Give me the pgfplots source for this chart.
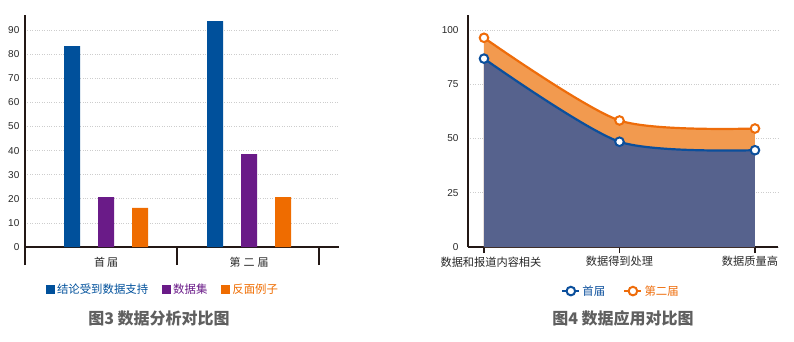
\documentclass[border=0pt]{standalone}
\usepackage{pgfplots}
\pgfplotsset{compat=1.18}
\usepackage{fontspec}
\setmainfont{Liberation Sans}
\newfontfamily\cjk{Noto Sans CJK SC}
\definecolor{cblue}{RGB}{0,80,155}
\definecolor{cpurple}{RGB}{106,27,136}
\definecolor{corange}{RGB}{239,108,0}
\definecolor{lblue}{RGB}{11,79,156}
\definecolor{ablue}{RGB}{86,98,141}
\definecolor{lorange}{RGB}{238,108,10}
\definecolor{aorange}{RGB}{242,154,79}
\definecolor{axdark}{RGB}{35,24,21}
\definecolor{gridc}{RGB}{205,205,205}
\definecolor{titlec}{RGB}{95,95,95}
\definecolor{labc}{RGB}{40,40,40}
\begin{document}
\begin{tikzpicture}[x=1pt,y=1pt]
\useasboundingbox (0,0) rectangle (794,341);
% ---------------- left chart ----------------
\begin{axis}[
  at={(25pt,94pt)}, anchor=south west,
  scale only axis, width=314pt, height=232pt,
  xmin=0.4336, xmax=2.629, ymin=0, ymax=96.3,
  axis lines=left, axis line style={-, axdark, line width=1.4pt},
  ybar=18pt, bar width=16pt,
  xtick={1,2}, xticklabels={{\cjk 首\hspace{2pt}届},{\cjk 第\hspace{3pt}二\hspace{3pt}届}},
  xtick style={draw=none},
  xticklabel style={yshift=-2pt},
  extra x ticks={0.4336,1.4965,2.49},
  extra x tick labels={},
  extra x tick style={major tick length=18pt, tick align=outside,
     xtick style={draw=axdark, line width=1.4pt}},
  ytick={0,10,...,90}, ytick style={draw=none},
  ymajorgrids, grid style={dotted, gridc, line width=0.7pt},
  ticklabel style={font=\fontsize{10}{12}\selectfont, text=labc},
  xticklabel style={font=\fontsize{11}{13}\selectfont},
  /pgf/number format/assume math mode=true,
  legend style={at={(0.4395,-0.185)}, anchor=center, draw=none, fill=none,
     legend columns=3, font=\fontsize{11.4}{13}\selectfont\cjk,
     /tikz/every odd column/.append style={column sep=0pt},
     /tikz/every even column/.append style={column sep=12pt},
     inner sep=0pt},
]
\addplot[fill=cblue, draw=none,
  legend image code/.code={\fill[cblue] (0pt,-4.5pt) rectangle (9pt,4.5pt);}]
  coordinates {(1,83.4) (2,93.8)};
\addlegendentry{\textcolor{cblue}{结论受到数据支持}}
\addplot[fill=cpurple, draw=none,
  legend image code/.code={\fill[cpurple] (0pt,-4.5pt) rectangle (9pt,4.5pt);}]
  coordinates {(1,20.7) (2,38.6)};
\addlegendentry{\textcolor{cpurple}{数据集}}
\addplot[fill=corange, draw=none,
  legend image code/.code={\fill[corange] (0pt,-4.5pt) rectangle (9pt,4.5pt);}]
  coordinates {(1,16.2) (2,20.7)};
\addlegendentry{\textcolor{corange}{反面例子}}
\end{axis}
\node[text=titlec, font=\fontsize{16}{18}\selectfont\cjk\bfseries] at (159,23) {图3 数据分析对比图};
% ---------------- right chart ----------------
\begin{axis}[
  at={(468pt,94pt)}, anchor=south west,
  scale only axis, width=310pt, height=232pt,
  xmin=0.882, xmax=3.17, ymin=0, ymax=106.9,
  axis lines=left, axis line style={-, axdark, line width=2pt},
  xtick={1,2,3},
  xticklabels={{\hspace*{14pt}\cjk 数据和报道内容相关},{\cjk 数据得到处理},{\cjk 数据质量高\hspace*{10pt}}},
  xtick style={draw=axdark, line width=1.5pt}, major tick length=6pt, tick align=outside,
  ytick={0,25,50,75,100}, ytick style={draw=none},
  ymajorgrids, grid style={dotted, gridc, line width=0.7pt},
  ticklabel style={font=\fontsize{10}{12}\selectfont, text=labc},
  xticklabel style={font=\fontsize{11.2}{13}\selectfont},
  /pgf/number format/assume math mode=true,
  legend style={at={(0.4935,-0.19)}, anchor=center, draw=none, fill=none,
     legend columns=2, font=\fontsize{11.4}{13}\selectfont\cjk,
     /tikz/every odd column/.append style={column sep=0pt},
     /tikz/every even column/.append style={column sep=16pt},
     inner sep=0pt},
]
\addplot[forget plot, smooth, tension=0.45, draw=none, fill=aorange]
  coordinates {(1,96.4) (2,58.3) (3,54.6)} \closedcycle;
\addplot[forget plot, smooth, tension=0.45, draw=none, fill=ablue]
  coordinates {(1,86.8) (2,48.5) (3,44.6)} \closedcycle;
\addplot[smooth, tension=0.45, lblue, line width=2.2pt, mark=*, mark size=4.3pt,
  mark options={fill=white, draw=lblue, line width=2pt}]
  coordinates {(1,86.8) (2,48.5) (3,44.6)};
\addlegendentry{\textcolor{lblue}{首届}}
\addplot[smooth, tension=0.45, lorange, line width=2.2pt, mark=*, mark size=4.3pt,
  mark options={fill=white, draw=lorange, line width=2pt}]
  coordinates {(1,96.4) (2,58.3) (3,54.6)};
\addlegendentry{\textcolor{lorange}{第二届}}
\end{axis}
\node[text=titlec, font=\fontsize{16}{18}\selectfont\cjk\bfseries] at (623,23) {图4 数据应用对比图};
\end{tikzpicture}
\end{document}
